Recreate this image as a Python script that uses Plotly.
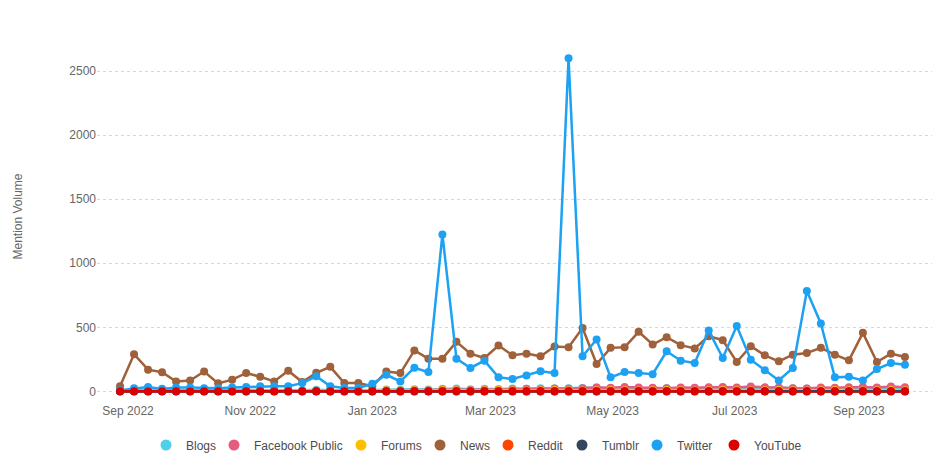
import plotly.graph_objects as go
import pandas as pd

dates = pd.date_range("2022-08-28", periods=57, freq="7D")

news = [40, 290, 170, 150, 78, 85, 155, 63, 92, 143, 115, 78, 162, 73, 145, 192, 65, 65, 40, 155,
        143, 320, 256, 256, 387, 295, 261, 358, 282, 295, 274, 350, 345, 495, 214, 340, 345, 465,
        366, 423, 361, 335, 431, 400, 230, 353, 282, 235, 287, 300, 340, 287, 243, 457, 230, 295, 269]
twitter = [10, 25, 35, 20, 30, 30, 25, 25, 30, 35, 40, 40, 40, 65, 118, 40, 27, 27, 60, 130,
           78, 185, 151, 1225, 256, 183, 240, 110, 97, 125, 157, 143, 2600, 274, 405, 110, 151, 143,
           135, 313, 240, 222, 475, 261, 510, 248, 165, 86, 183, 783, 530, 110, 115, 86, 175, 222, 209]
blogs = [5, 8, 10, 8, 12, 10, 8, 10, 12, 10, 8, 10, 12, 10, 14, 10, 8, 10, 12, 15,
         14, 18, 15, 20, 22, 18, 20, 18, 22, 20, 25, 22, 24, 26, 30, 22, 20, 24,
         22, 25, 20, 24, 22, 20, 25, 22, 28, 30, 25, 22, 20, 18, 20, 22, 24, 20, 22]
facebook = [3, 5, 6, 4, 5, 6, 5, 4, 6, 5, 6, 5, 4, 6, 8, 6, 5, 6, 8, 10,
            8, 12, 10, 15, 14, 12, 14, 16, 18, 20, 18, 22, 20, 25, 30, 28, 35, 30,
            28, 25, 30, 28, 32, 35, 30, 38, 32, 28, 25, 22, 30, 28, 32, 35, 30, 38, 32]
forums = [2, 3, 4, 3, 4, 3, 4, 3, 4, 3, 4, 5, 4, 5, 6, 8, 10, 12, 14, 10,
          8, 10, 8, 12, 10, 8, 10, 12, 10, 8, 10, 12, 10, 8, 10, 12, 10, 8,
          10, 12, 10, 8, 10, 12, 10, 8, 10, 12, 10, 8, 10, 12, 10, 8, 10, 12, 10]
reddit = [1, 1, 2, 1, 2, 1, 1, 2, 1, 2, 1, 1, 2, 1, 2, 1, 1, 2, 1, 2,
          2, 3, 2, 4, 3, 2, 3, 2, 3, 2, 3, 2, 4, 3, 2, 3, 2, 3, 2, 3,
          2, 3, 2, 3, 2, 3, 2, 3, 2, 3, 2, 3, 2, 3, 2, 3, 2]
tumblr = [0, 0, 1, 0, 0, 1, 0, 0, 1, 0, 0, 1, 0, 0, 1, 0, 0, 1, 0, 0,
          1, 0, 0, 1, 0, 0, 1, 0, 0, 1, 0, 0, 1, 0, 0, 1, 0, 0, 1, 0,
          0, 1, 0, 0, 1, 0, 0, 1, 0, 0, 1, 0, 0, 1, 0, 0, 1]
youtube = [1, 1, 0, 1, 1, 0, 1, 1, 0, 1, 1, 0, 1, 1, 0, 1, 1, 0, 1, 1,
           0, 1, 1, 0, 1, 1, 0, 1, 1, 0, 1, 1, 0, 1, 1, 0, 1, 1, 0, 1,
           1, 0, 1, 1, 0, 1, 1, 0, 1, 1, 0, 1, 1, 0, 1, 1, 0]

series = [
    ("Blogs", blogs, "#4fd0ea", 23),
    ("Facebook Public", facebook, "#e65b7e", 82),
    ("Forums", forums, "#ffbf00", 34),
    ("News", news, "#a0603a", 23),
    ("Reddit", reddit, "#ff4500", 29),
    ("Tumblr", tumblr, "#34465d", 30),
    ("Twitter", twitter, "#1da1f2", 32),
    ("YouTube", youtube, "#dd0000", 45),
]

fig = go.Figure()
for name, vals, col, lw in series:
    fig.add_trace(go.Scatter(
        x=dates, y=vals, name=name, mode="lines+markers",
        line=dict(color=col, width=2.5), marker=dict(color=col, size=8),
        showlegend=False, cliponaxis=False, legendgroup=name,
    ))
for name, vals, col, lw in series:
    fig.add_trace(go.Scatter(
        x=[None], y=[None], name=name, mode="markers",
        marker=dict(color=col, size=11), legendgroup=name, showlegend=True,
        legendwidth=lw,
    ))

font = "Arial, Liberation Sans, sans-serif"
fig.update_layout(
    width=940, height=466,
    margin=dict(l=89, r=3, t=31, b=80),
    paper_bgcolor="white", plot_bgcolor="white",
    font=dict(family=font, size=12, color="#666666"),
    xaxis=dict(
        range=["2022-08-16 12:00", "2023-10-14"],
        tickformat="%b %Y", dtick="M2", tick0="2022-09-01",
        showgrid=False, showline=False, ticks="", zeroline=False,
        ticklabelstandoff=8,
        tickfont=dict(size=12, color="#666666"),
    ),
    yaxis=dict(
        range=[-20, 2750], tickvals=[0, 500, 1000, 1500, 2000, 2500],
        showgrid=True, gridcolor="#d8d8d8", griddash="dot", gridwidth=1,
        zeroline=False, showline=False, ticks="",
        tickfont=dict(size=12, color="#666666"),
        title=dict(text="Mention Volume", font=dict(size=12, color="#666666"), standoff=44),
    ),
    legend=dict(orientation="h", xref="container", x=138 / 940, xanchor="left",
                yref="container", y=1 - 437 / 466, yanchor="middle",
                font=dict(size=12, color="#4d4d4d"), itemwidth=30),
    showlegend=True,
)

fig.write_html("out.html")
